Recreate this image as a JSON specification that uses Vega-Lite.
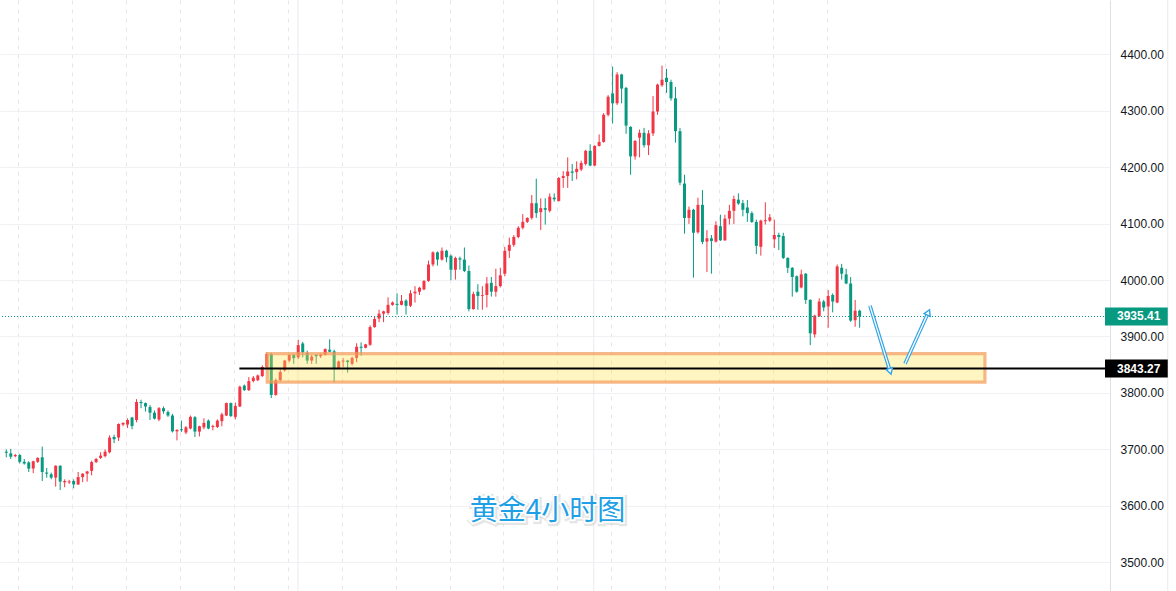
{
  "$schema": "https://vega.github.io/schema/vega-lite/v6.json",
  "width": 1110,
  "height": 591,
  "autosize": {"type": "none"},
  "padding": {"left": 0, "top": 0, "right": 66, "bottom": 0},
  "background": "white",
  "config": {"view": {"stroke": null}},
  "datasets": {
    "candles": [
      {"i":0,"o":3696,"h":3700,"l":3686,"c":3694},
      {"i":1,"o":3693,"h":3701,"l":3683,"c":3687},
      {"i":2,"o":3688,"h":3692,"l":3686,"c":3690},
      {"i":3,"o":3690,"h":3692,"l":3675,"c":3678},
      {"i":4,"o":3678,"h":3683,"l":3673,"c":3675},
      {"i":5,"o":3677,"h":3679,"l":3660,"c":3666},
      {"i":6,"o":3666,"h":3680,"l":3658,"c":3679},
      {"i":7,"o":3678,"h":3686,"l":3676,"c":3685},
      {"i":8,"o":3686,"h":3705,"l":3644,"c":3660},
      {"i":9,"o":3659,"h":3667,"l":3650,"c":3657},
      {"i":10,"o":3656,"h":3659,"l":3647,"c":3650},
      {"i":11,"o":3650,"h":3672,"l":3634,"c":3671},
      {"i":12,"o":3671,"h":3672,"l":3628,"c":3643},
      {"i":13,"o":3642,"h":3647,"l":3633,"c":3644},
      {"i":14,"o":3641.5,"h":3646,"l":3639,"c":3643.3},
      {"i":15,"o":3644,"h":3647,"l":3631,"c":3638},
      {"i":16,"o":3638,"h":3660,"l":3637,"c":3651},
      {"i":17,"o":3651,"h":3658,"l":3642,"c":3657},
      {"i":18,"o":3657,"h":3662,"l":3643,"c":3661},
      {"i":19,"o":3662,"h":3680,"l":3654,"c":3677.5},
      {"i":20,"o":3677.5,"h":3685,"l":3676,"c":3683},
      {"i":21,"o":3685,"h":3695,"l":3683,"c":3689},
      {"i":22,"o":3688,"h":3700,"l":3686,"c":3696},
      {"i":23,"o":3695,"h":3725,"l":3693,"c":3721},
      {"i":24,"o":3722,"h":3726,"l":3711,"c":3718},
      {"i":25,"o":3721,"h":3746,"l":3715,"c":3745},
      {"i":26,"o":3744,"h":3748,"l":3741,"c":3747},
      {"i":27,"o":3744,"h":3755,"l":3738,"c":3752},
      {"i":28,"o":3756.5,"h":3757.6,"l":3735.6,"c":3741.4},
      {"i":29,"o":3752,"h":3789,"l":3748,"c":3784},
      {"i":30,"o":3784,"h":3788,"l":3773,"c":3782},
      {"i":31,"o":3782,"h":3783,"l":3767,"c":3776},
      {"i":32,"o":3775,"h":3778.5,"l":3752,"c":3765},
      {"i":33,"o":3765,"h":3769,"l":3753,"c":3754.5},
      {"i":34,"o":3753,"h":3775,"l":3750,"c":3773},
      {"i":35,"o":3773,"h":3776,"l":3763,"c":3767.5},
      {"i":36,"o":3766,"h":3769,"l":3757.6,"c":3760},
      {"i":37,"o":3760,"h":3763,"l":3730,"c":3732},
      {"i":38,"o":3732,"h":3736,"l":3716,"c":3734.4},
      {"i":39,"o":3735.6,"h":3751,"l":3731,"c":3733.8},
      {"i":40,"o":3730,"h":3741.4,"l":3727,"c":3739},
      {"i":41,"o":3737,"h":3760,"l":3735.6,"c":3757.6},
      {"i":42,"o":3757,"h":3759,"l":3722,"c":3731.5},
      {"i":43,"o":3731.5,"h":3742,"l":3723,"c":3741},
      {"i":44,"o":3739,"h":3755,"l":3735.6,"c":3747},
      {"i":45,"o":3751,"h":3753,"l":3735.6,"c":3737},
      {"i":46,"o":3739.6,"h":3743.7,"l":3733.8,"c":3741.4},
      {"i":47,"o":3739.6,"h":3753,"l":3738,"c":3751},
      {"i":48,"o":3750,"h":3765,"l":3741,"c":3762},
      {"i":49,"o":3760,"h":3783,"l":3759,"c":3782},
      {"i":50,"o":3782,"h":3783,"l":3757.6,"c":3759},
      {"i":51,"o":3757.6,"h":3783,"l":3753,"c":3777},
      {"i":52,"o":3776,"h":3813,"l":3775,"c":3811},
      {"i":53,"o":3813,"h":3815,"l":3803.5,"c":3805},
      {"i":54,"o":3805,"h":3828,"l":3803.5,"c":3821},
      {"i":55,"o":3821,"h":3830,"l":3818.6,"c":3827},
      {"i":56,"o":3822.6,"h":3832.5,"l":3821,"c":3831},
      {"i":57,"o":3830,"h":3849,"l":3828,"c":3846},
      {"i":58,"o":3846,"h":3872,"l":3843,"c":3869},
      {"i":59,"o":3869,"h":3871,"l":3791,"c":3796.5},
      {"i":60,"o":3796.5,"h":3825.5,"l":3795,"c":3822.6},
      {"i":61,"o":3822.6,"h":3842,"l":3819.7,"c":3837},
      {"i":62,"o":3840,"h":3858.6,"l":3838,"c":3857.4},
      {"i":63,"o":3857.4,"h":3869,"l":3854.5,"c":3867.3},
      {"i":64,"o":3867.3,"h":3869,"l":3851.6,"c":3861.5},
      {"i":65,"o":3863,"h":3894,"l":3860,"c":3884.7},
      {"i":66,"o":3887.6,"h":3890.5,"l":3863,"c":3872},
      {"i":67,"o":3871,"h":3875,"l":3851.6,"c":3857.4},
      {"i":68,"o":3857.4,"h":3867.3,"l":3851.6,"c":3864.4},
      {"i":69,"o":3867.3,"h":3869,"l":3851.6,"c":3865},
      {"i":70,"o":3865,"h":3870,"l":3862,"c":3867.9},
      {"i":71,"o":3867.3,"h":3879,"l":3866,"c":3877.7},
      {"i":72,"o":3876.6,"h":3895,"l":3872,"c":3873},
      {"i":73,"o":3873.7,"h":3876.6,"l":3818.6,"c":3843},
      {"i":74,"o":3844,"h":3857.4,"l":3843,"c":3855.7},
      {"i":75,"o":3855.7,"h":3862,"l":3845.8,"c":3857.4},
      {"i":76,"o":3857.4,"h":3858.6,"l":3836,"c":3854.5},
      {"i":77,"o":3851.6,"h":3864.4,"l":3848.7,"c":3862},
      {"i":78,"o":3862,"h":3888,"l":3854.5,"c":3881.8},
      {"i":79,"o":3881.8,"h":3889.4,"l":3866,"c":3880},
      {"i":80,"o":3880,"h":3887,"l":3879,"c":3886},
      {"i":81,"o":3885.3,"h":3919.5,"l":3883.5,"c":3916.6},
      {"i":82,"o":3916.6,"h":3936,"l":3915.5,"c":3931},
      {"i":83,"o":3931.7,"h":3947.4,"l":3925.3,"c":3940.4},
      {"i":84,"o":3940.4,"h":3945.6,"l":3925.3,"c":3944.5},
      {"i":85,"o":3941.6,"h":3969.4,"l":3938.7,"c":3956},
      {"i":86,"o":3956,"h":3962,"l":3954.4,"c":3960.2},
      {"i":87,"o":3957.8,"h":3976.4,"l":3938.7,"c":3956},
      {"i":88,"o":3956,"h":3973.5,"l":3955,"c":3963},
      {"i":89,"o":3963.6,"h":3966,"l":3938.7,"c":3954.4},
      {"i":90,"o":3954.4,"h":3982,"l":3952,"c":3976.4},
      {"i":91,"o":3976.4,"h":3989,"l":3960,"c":3979.3},
      {"i":92,"o":3979.3,"h":3988,"l":3973.5,"c":3986.3},
      {"i":93,"o":3983.4,"h":3999.6,"l":3982,"c":3998.4},
      {"i":94,"o":3998.4,"h":4034.4,"l":3996.7,"c":4027.5},
      {"i":95,"o":4027.5,"h":4050.7,"l":4024,"c":4049},
      {"i":96,"o":4049,"h":4050.7,"l":4025.7,"c":4036.2},
      {"i":97,"o":4036.2,"h":4057.6,"l":4034.4,"c":4051.8},
      {"i":98,"o":4051.8,"h":4053.6,"l":4031.5,"c":4040.2},
      {"i":99,"o":4043,"h":4045,"l":3999.6,"c":4018.2},
      {"i":100,"o":4018.2,"h":4041.4,"l":4000.8,"c":4039},
      {"i":101,"o":4038.5,"h":4041.4,"l":4018.2,"c":4036.2},
      {"i":102,"o":4036.2,"h":4057.6,"l":4014,"c":4016},
      {"i":103,"o":4016,"h":4025.7,"l":3944.5,"c":3948.5},
      {"i":104,"o":3948.5,"h":3979.3,"l":3947.4,"c":3975.2},
      {"i":105,"o":3979.3,"h":3992.6,"l":3947.4,"c":3971.8},
      {"i":106,"o":3972,"h":3989,"l":3947.4,"c":3973.5},
      {"i":107,"o":3973.5,"h":4005.4,"l":3951.4,"c":3993.8},
      {"i":108,"o":3995,"h":4005.4,"l":3970.6,"c":3979.3},
      {"i":109,"o":3979.3,"h":4020,"l":3970.6,"c":3989.2},
      {"i":110,"o":3989.2,"h":4021.7,"l":3986.8,"c":4008.3},
      {"i":111,"o":4011.2,"h":4058.8,"l":4006.6,"c":4051.8},
      {"i":112,"o":4051.8,"h":4075,"l":4039,"c":4062.3},
      {"i":113,"o":4062.3,"h":4079.7,"l":4058.8,"c":4076.2},
      {"i":114,"o":4076.2,"h":4095.4,"l":4073.9,"c":4092.5},
      {"i":115,"o":4092.5,"h":4116.8,"l":4089.6,"c":4103},
      {"i":116,"o":4103,"h":4111,"l":4101,"c":4110},
      {"i":117,"o":4110,"h":4150.5,"l":4107,"c":4136},
      {"i":118,"o":4136,"h":4179.5,"l":4110,"c":4118.5},
      {"i":119,"o":4120.3,"h":4144.7,"l":4088.4,"c":4127.3},
      {"i":120,"o":4127.3,"h":4144.7,"l":4098.2,"c":4124.4},
      {"i":121,"o":4122.6,"h":4153.4,"l":4119.7,"c":4147.6},
      {"i":122,"o":4145.8,"h":4153.4,"l":4138.9,"c":4142.9},
      {"i":123,"o":4140,"h":4182.4,"l":4138.9,"c":4180.7},
      {"i":124,"o":4180.7,"h":4192.8,"l":4163.2,"c":4184.1},
      {"i":125,"o":4184.1,"h":4217.2,"l":4163.2,"c":4192.2},
      {"i":126,"o":4192.2,"h":4205.6,"l":4175.4,"c":4189.9},
      {"i":127,"o":4191.1,"h":4210.2,"l":4178.3,"c":4196.9},
      {"i":128,"o":4195.7,"h":4211.4,"l":4192.8,"c":4207.3},
      {"i":129,"o":4205.6,"h":4230.6,"l":4202.7,"c":4228.8},
      {"i":130,"o":4228.8,"h":4240.4,"l":4201.5,"c":4202.7},
      {"i":131,"o":4202.7,"h":4238.7,"l":4201.5,"c":4237.5},
      {"i":132,"o":4237.5,"h":4257.8,"l":4236.4,"c":4244.5},
      {"i":133,"o":4244.5,"h":4295.5,"l":4243.3,"c":4292.6},
      {"i":134,"o":4292.6,"h":4327.5,"l":4289.7,"c":4324.6},
      {"i":135,"o":4330.4,"h":4378,"l":4277,"c":4313},
      {"i":136,"o":4313,"h":4368.1,"l":4310.1,"c":4364},
      {"i":137,"o":4364,"h":4365.2,"l":4313,"c":4339.1},
      {"i":138,"o":4340.2,"h":4342,"l":4259,"c":4273.5},
      {"i":139,"o":4271.2,"h":4272.3,"l":4186.4,"c":4218.9},
      {"i":140,"o":4218.9,"h":4248,"l":4213.1,"c":4246.2},
      {"i":141,"o":4252,"h":4266.5,"l":4217.2,"c":4260.7},
      {"i":142,"o":4260.7,"h":4269.4,"l":4234.6,"c":4238.7},
      {"i":143,"o":4238.7,"h":4265.4,"l":4221.3,"c":4259.6},
      {"i":144,"o":4259.6,"h":4325.7,"l":4254.9,"c":4298.4},
      {"i":145,"o":4298.4,"h":4347.8,"l":4292.6,"c":4346},
      {"i":146,"o":4344.9,"h":4379.7,"l":4342,"c":4354.7},
      {"i":147,"o":4358.2,"h":4373.9,"l":4331.5,"c":4350.7},
      {"i":148,"o":4350.7,"h":4354.7,"l":4317.6,"c":4321.7},
      {"i":149,"o":4321.7,"h":4342,"l":4243.3,"c":4263.6},
      {"i":150,"o":4263.6,"h":4269.4,"l":4167.9,"c":4172.5},
      {"i":151,"o":4170.8,"h":4186.4,"l":4082,"c":4109.9},
      {"i":152,"o":4109.9,"h":4130.2,"l":4099.4,"c":4124.4},
      {"i":153,"o":4124.4,"h":4126.1,"l":4004.2,"c":4083.7},
      {"i":154,"o":4084.5,"h":4145.8,"l":4082,"c":4133.1},
      {"i":155,"o":4133.1,"h":4159.2,"l":4063.4,"c":4067.5},
      {"i":156,"o":4068.1,"h":4088.4,"l":4014.1,"c":4073.9},
      {"i":157,"o":4073.9,"h":4079.7,"l":4011.2,"c":4069.2},
      {"i":158,"o":4068.1,"h":4104.1,"l":4066.3,"c":4097.1},
      {"i":159,"o":4095.3,"h":4115.7,"l":4069.2,"c":4070.4},
      {"i":160,"o":4070.4,"h":4115.7,"l":4069.2,"c":4108.7},
      {"i":161,"o":4108.7,"h":4133.1,"l":4098.3,"c":4122.6},
      {"i":162,"o":4122.6,"h":4149.3,"l":4099.4,"c":4143.5},
      {"i":163,"o":4142.3,"h":4153.4,"l":4133.1,"c":4135.4},
      {"i":164,"o":4136,"h":4141.8,"l":4112.8,"c":4124.4},
      {"i":165,"o":4128.4,"h":4141.8,"l":4102.9,"c":4118.5},
      {"i":166,"o":4118.5,"h":4121.5,"l":4101.1,"c":4102.9},
      {"i":167,"o":4102.9,"h":4106.9,"l":4046,"c":4060.5},
      {"i":168,"o":4058.8,"h":4106.9,"l":4043.1,"c":4105.2},
      {"i":169,"o":4104.1,"h":4137.7,"l":4098.3,"c":4105.8},
      {"i":170,"o":4105.2,"h":4116.8,"l":4102.9,"c":4111},
      {"i":171,"o":4072.1,"h":4106.9,"l":4056.5,"c":4079.7},
      {"i":172,"o":4079.7,"h":4083.7,"l":4053,"c":4076.2},
      {"i":173,"o":4077.9,"h":4083.7,"l":4037.3,"c":4039.1},
      {"i":174,"o":4039.1,"h":4040.2,"l":4012.4,"c":4021.6},
      {"i":175,"o":4021.6,"h":4022.8,"l":3970.6,"c":4005.4},
      {"i":176,"o":4006.6,"h":4008.3,"l":3977.5,"c":3979.3},
      {"i":177,"o":3986.8,"h":4018.2,"l":3985.1,"c":4010},
      {"i":178,"o":4011.2,"h":4012.4,"l":3957.8,"c":3964.8},
      {"i":179,"o":3964.8,"h":3965.9,"l":3884.7,"c":3905.6},
      {"i":180,"o":3903.8,"h":3938.7,"l":3898,"c":3936.9},
      {"i":181,"o":3935.8,"h":3967.7,"l":3934.6,"c":3961.9},
      {"i":182,"o":3961.9,"h":3964.8,"l":3944.5,"c":3951.4},
      {"i":183,"o":3953.2,"h":3982.2,"l":3915.5,"c":3971.8},
      {"i":184,"o":3973.5,"h":3976.4,"l":3942.7,"c":3961.9},
      {"i":185,"o":3960.1,"h":4027.5,"l":3959,"c":4024},
      {"i":186,"o":4021.6,"h":4028.6,"l":4000.8,"c":4011.2},
      {"i":187,"o":4010,"h":4019.9,"l":3992.6,"c":3993.8},
      {"i":188,"o":3993.8,"h":4005.4,"l":3925.9,"c":3928.2},
      {"i":189,"o":3928.8,"h":3964.8,"l":3917.2,"c":3945.6},
      {"i":190,"o":3945.6,"h":3947.4,"l":3915.5,"c":3935.41}
    ],
    "arrows": [
      {"a":1,"x1":192.3,"y1":3954.3,"x2":196.8,"y2":3838.2},
      {"a":2,"x1":200.1,"y1":3851.6,"x2":205.3,"y2":3942.7}
    ]
  },
  "layer": [
    {
      "data": {"values": [{"i": 64.96}, {"i": 130.8}, {"i": 258.6}]},
      "mark": {"type": "rule", "color": "#e9eaee", "strokeWidth": 1},
      "encoding": {
        "x": {"field": "i", "type": "quantitative", "title": null,
              "scale": {"domain": [-0.287, 244.63], "nice": false, "zero": false},
              "axis": {"orient": "bottom", "labels": false, "ticks": false, "domain": false, "grid": true,
                       "gridDash": [4, 5], "gridColor": "#e6e6e6", "gridWidth": 1,
                       "values": [2.7,8.7,14.7,20.7,26.7,32.7,38.7,44.7,50.7,56.7,62.7,68.7,74.7,80.7,86.7,92.7,98.7,104.7,110.7,116.7,122.7,128.7,134.7,140.7,146.7,152.7,158.7,164.7,170.7,176.7,182.7,188.7]}}
      }
    },
    {
      "data": {"name": "candles"},
      "mark": {"type": "rule", "strokeWidth": 1},
      "encoding": {
        "x": {"field": "i", "type": "quantitative", "title": null},
        "y": {"field": "l", "type": "quantitative", "title": null,
              "scale": {"domain": [3458.1, 4487.05], "nice": false, "zero": false},
              "axis": {"orient": "right", "values": [3500,3600,3700,3800,3900,4000,4100,4200,4300,4400],
                       "format": ".2f", "ticks": false, "domain": true, "domainColor": "#dcdfe6",
                       "grid": true, "gridColor": "#f0f1f4", "labelPadding": 10, "labelFontSize": 12,
                       "labelFont": "Liberation Sans", "labelColor": "#131722"}},
        "y2": {"field": "h"},
        "color": {"condition": {"test": "datum.c > datum.o", "value": "#f23645"}, "value": "#089981"}
      }
    },
    {
      "data": {"name": "candles"},
      "mark": {"type": "bar", "width": 3, "orient": "vertical"},
      "encoding": {
        "x": {"field": "i", "type": "quantitative", "title": null},
        "y": {"field": "o", "type": "quantitative", "title": null},
        "y2": {"field": "c"},
        "color": {"condition": {"test": "datum.c > datum.o", "value": "#f23645"}, "value": "#089981"}
      }
    },
    {
      "data": {"values": [{"p": 3935.41}]},
      "mark": {"type": "rule", "color": "#089981", "strokeWidth": 1, "strokeDash": [1, 2]},
      "encoding": {"y": {"field": "p", "type": "quantitative", "title": null}}
    },
    {
      "data": {"values": [{"x1": 58.1, "x2": 217.9, "p1": 3869.5, "p2": 3819.0}]},
      "mark": {"type": "rect", "fill": "#fbe34a", "fillOpacity": 0.34, "stroke": "#f39a5a", "strokeWidth": 3.2, "strokeOpacity": 0.7},
      "encoding": {
        "x": {"field": "x1", "type": "quantitative", "title": null},
        "x2": {"field": "x2"},
        "y": {"field": "p1", "type": "quantitative", "title": null},
        "y2": {"field": "p2"}
      }
    },
    {
      "data": {"values": [{"x1": 51.9, "x2": 244.63, "p": 3843.27}]},
      "mark": {"type": "rule", "color": "#000000", "strokeWidth": 2},
      "encoding": {
        "x": {"field": "x1", "type": "quantitative", "title": null},
        "x2": {"field": "x2"},
        "y": {"field": "p", "type": "quantitative", "title": null}
      }
    },
    {
      "data": {"name": "arrows"},
      "mark": {"type": "rule", "color": "#2ea3e6", "strokeWidth": 3.6},
      "encoding": {
        "x": {"field": "x1", "type": "quantitative", "title": null},
        "x2": {"field": "x2"},
        "y": {"field": "y1", "type": "quantitative", "title": null},
        "y2": {"field": "y2"}
      }
    },
    {
      "data": {"name": "arrows"},
      "mark": {"type": "rule", "color": "#ffffff", "strokeWidth": 1.3},
      "encoding": {
        "x": {"field": "x1", "type": "quantitative", "title": null},
        "x2": {"field": "x2"},
        "y": {"field": "y1", "type": "quantitative", "title": null},
        "y2": {"field": "y2"}
      }
    },
    {
      "data": {"name": "arrows"},
      "transform": [{"filter": "datum.a == 1"}],
      "mark": {"type": "point", "shape": "triangle-up", "angle": 163, "size": 45, "filled": true, "fill": "#ffffff", "stroke": "#2ea3e6", "strokeWidth": 1.4, "opacity": 1},
      "encoding": {
        "x": {"field": "x2", "type": "quantitative", "title": null},
        "y": {"field": "y2", "type": "quantitative", "title": null}
      }
    },
    {
      "data": {"name": "arrows"},
      "transform": [{"filter": "datum.a == 2"}],
      "mark": {"type": "point", "shape": "triangle-up", "angle": 24, "size": 45, "filled": true, "fill": "#ffffff", "stroke": "#2ea3e6", "strokeWidth": 1.4, "opacity": 1},
      "encoding": {
        "x": {"field": "x2", "type": "quantitative", "title": null},
        "y": {"field": "y2", "type": "quantitative", "title": null}
      }
    },
    {
      "data": {"values": [{"i": 120.5, "p": 3588.7, "t": "黄金4小时图"}]},
      "mark": {"type": "text", "font": "Noto Sans CJK SC", "fontSize": 28, "align": "center", "baseline": "middle",
               "fill": "#d4d4d4", "stroke": "#d4d4d4", "strokeWidth": 6, "strokeOpacity": 0.6, "dx": 1, "dy": 1},
      "encoding": {
        "x": {"field": "i", "type": "quantitative", "title": null},
        "y": {"field": "p", "type": "quantitative", "title": null},
        "text": {"field": "t"}
      }
    },
    {
      "data": {"values": [{"i": 120.5, "p": 3588.7, "t": "黄金4小时图"}]},
      "mark": {"type": "text", "font": "Noto Sans CJK SC", "fontSize": 28, "align": "center", "baseline": "middle",
               "fill": "#ffffff", "stroke": "#ffffff", "strokeWidth": 3.5},
      "encoding": {
        "x": {"field": "i", "type": "quantitative", "title": null},
        "y": {"field": "p", "type": "quantitative", "title": null},
        "text": {"field": "t"}
      }
    },
    {
      "data": {"values": [{"i": 120.5, "p": 3588.7, "t": "黄金4小时图"}]},
      "mark": {"type": "text", "font": "Noto Sans CJK SC", "fontSize": 28, "align": "center", "baseline": "middle",
               "fill": "#1e9fe6"},
      "encoding": {
        "x": {"field": "i", "type": "quantitative", "title": null},
        "y": {"field": "p", "type": "quantitative", "title": null},
        "text": {"field": "t"}
      }
    },
    {
      "data": {"values": [{"p": 3935.41, "t": "3935.41"}, {"p": 3843.27, "t": "3843.27"}]},
      "mark": {"type": "bar", "orient": "horizontal", "height": 18},
      "encoding": {
        "x": {"datum": 244.63, "type": "quantitative"},
        "x2": {"datum": 258.6},
        "y": {"field": "p", "type": "quantitative", "title": null},
        "color": {"condition": {"test": "datum.p > 3900", "value": "#089981"}, "value": "#000000"}
      }
    },
    {
      "data": {"values": [{"p": 3935.41, "t": "3935.41"}, {"p": 3843.27, "t": "3843.27"}]},
      "mark": {"type": "text", "align": "left", "baseline": "middle", "dx": 12, "fill": "#ffffff",
               "font": "Liberation Sans", "fontSize": 12, "fontWeight": "bold"},
      "encoding": {
        "x": {"datum": 244.63, "type": "quantitative"},
        "y": {"field": "p", "type": "quantitative", "title": null},
        "text": {"field": "t"}
      }
    }
  ]
}
